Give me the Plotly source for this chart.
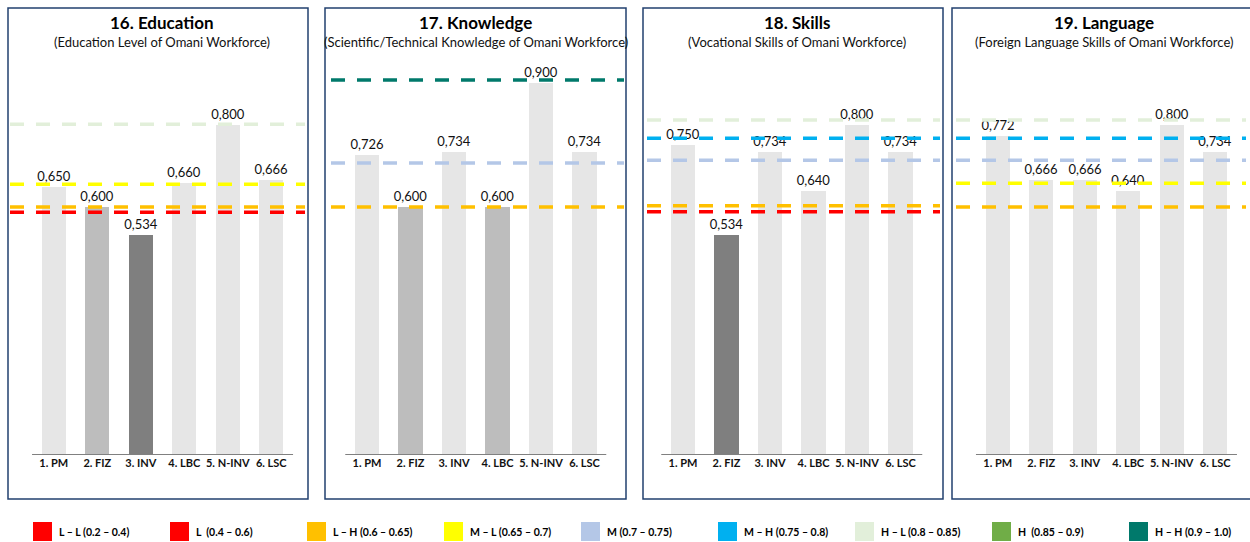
import plotly.graph_objects as go

W, H = 1250, 542

# ---- data -------------------------------------------------------------
categories = ["1. PM", "2. FIZ", "3. INV", "4. LBC", "5. N-INV", "6. LSC"]

education = [0.650, 0.600, 0.534, 0.660, 0.800, 0.666]
knowledge = [0.726, 0.600, 0.734, 0.600, 0.900, 0.734]
skills = [0.750, 0.534, 0.734, 0.640, 0.800, 0.734]
language = [0.772, 0.666, 0.666, 0.640, 0.800, 0.734]

panel_titles = ["16. Education", "17. Knowledge", "18. Skills", "19. Language"]
panel_subtitles = [
    "(Education Level of Omani Workforce)",
    "(Scientific/Technical Knowledge of Omani Workforce)",
    "(Vocational Skills of Omani Workforce)",
    "(Foreign Language Skills of Omani Workforce)",
]

# rating bands (legend)
band_keys = ["L-L", "L", "L-H", "M-L", "M", "M-H", "H-L", "H", "H-H"]
band_labels = [
    "L – L (0.2 – 0.4)", "L  (0.4 – 0.6)", "L – H (0.6 – 0.65)",
    "M – L (0.65 – 0.7)", "M (0.7 – 0.75)", "M – H (0.75 – 0.8)",
    "H – L (0.8 – 0.85)", "H  (0.85 – 0.9)", "H – H (0.9 – 1.0)",
]

# reference levels drawn in each panel: (band, level)
education_levels = [("H-L", 0.800), ("M-L", 0.655), ("L-H", 0.600), ("L", 0.587)]
knowledge_levels = [("H-H", 0.907), ("M", 0.706), ("L-H", 0.600)]
skills_levels = [("H-L", 0.810), ("M-H", 0.766), ("M", 0.713), ("L-H", 0.603), ("L", 0.588)]
language_levels = [("H-L", 0.810), ("M-H", 0.766), ("M", 0.713), ("M-L", 0.657), ("L-H", 0.600)]

# ---- styling ----------------------------------------------------------
band_colors = {
    "L-L": "#FF0000", "L": "#FF0000", "L-H": "#FFC000", "M-L": "#FFFF00",
    "M": "#B4C7E7", "M-H": "#00B0F0", "H-L": "#E2EFDA", "H": "#70AD47",
    "H-H": "#00796B",
}
FONT = "Lato, 'Open Sans', sans-serif"
TEXT = "#111111"
FRAME = "#22406F"


def bar_color(v):
    if v < 0.55:
        return "#7F7F7F"
    if v <= 0.6:
        return "#BDBDBD"
    return "#E6E6E6"


def fmt(v):
    return f"{v:.3f}".replace(".", ",")


def px(x):
    return x / W


def py(y):
    return 1 - y / H


# panel geometry in pixels
frames = [(8, 308), (325, 626), (643, 943), (952, 1252)]
spans = [(10, 305), (331, 624), (647, 940), (956, 1246)]
first_center = [53.8, 367.0, 683.0, 997.7]
title_center = [161.5, 475.5, 797.0, 1104.0]
STEP = 43.5
Y_ZERO, Y_ONE = 455.0, 41.5
FRAME_TOP, FRAME_BOTTOM = 8, 499

panels = [education, knowledge, skills, language]
levels = [education_levels, knowledge_levels, skills_levels, language_levels]

fig = go.Figure()
shapes = []
annotations = []
layout_axes = {}

for i, vals in enumerate(panels):
    n = i + 1
    xa = "x" if n == 1 else f"x{n}"
    ya = "y" if n == 1 else f"y{n}"
    L, R = spans[i]
    c0 = first_center[i]

    fig.add_trace(go.Bar(
        x=list(range(len(categories))), y=vals,
        width=0.56,
        marker=dict(color=[bar_color(v) for v in vals], line=dict(width=0)),
        text=[fmt(v) for v in vals], textposition="outside",
        textangle=0, constraintext="none", cliponaxis=False,
        textfont=dict(family=FONT, size=13, color=TEXT),
        xaxis=xa, yaxis=ya, showlegend=False, hoverinfo="skip",
    ))

    layout_axes[f"xaxis{'' if n == 1 else n}"] = dict(
        domain=[px(L), px(R)],
        range=[(L - c0) / STEP, (R - c0) / STEP],
        tickvals=list(range(len(categories))), ticktext=categories,
        tickfont=dict(family=FONT, size=11, color=TEXT, weight="bold"),
        showgrid=False, zeroline=False, showline=False, ticks="",
        anchor=ya, fixedrange=True,
    )
    layout_axes[f"yaxis{'' if n == 1 else n}"] = dict(
        domain=[py(Y_ZERO), py(Y_ONE)], range=[0, 1],
        visible=False, anchor=xa, fixedrange=True,
    )

    # base line
    shapes.append(dict(type="line", xref=xa, yref=ya, x0=-0.5, x1=5.5, y0=0, y1=0,
                       line=dict(color="#808080", width=2), layer="above"))

    # dashed band levels
    for band, lv in levels[i]:
        shapes.append(dict(type="line", xref=f"{xa} domain", yref=ya,
                           x0=0, x1=1, y0=lv, y1=lv, layer="above",
                           line=dict(color=band_colors[band], width=3.5, dash="14px,12px")))

    # frame
    fl, fr = frames[i]
    shapes.append(dict(type="rect", xref="paper", yref="paper",
                       x0=px(fl), x1=px(fr), y0=py(FRAME_BOTTOM), y1=py(FRAME_TOP),
                       line=dict(color=FRAME, width=1.5), layer="above"))

    # titles
    annotations.append(dict(xref="paper", yref="paper", x=px(title_center[i]), y=py(22.5),
                            text=panel_titles[i], showarrow=False,
                            xanchor="center", yanchor="middle",
                            font=dict(family=FONT, size=17, color="#000000", weight="bold")))
    annotations.append(dict(xref="paper", yref="paper", x=px(title_center[i]), y=py(42.5),
                            text=panel_subtitles[i], showarrow=False,
                            xanchor="center", yanchor="middle",
                            font=dict(family=FONT, size=13, color=TEXT)))

# legend row
LEG_X0, LEG_STEP, SQ_W, SQ_TOP, SQ_BOT = 33, 137, 19, 522, 541
for k, key in enumerate(band_keys):
    x0 = LEG_X0 + k * LEG_STEP
    shapes.append(dict(type="rect", xref="paper", yref="paper",
                       x0=px(x0), x1=px(x0 + SQ_W), y0=py(SQ_BOT), y1=py(SQ_TOP),
                       fillcolor=band_colors[key], line=dict(width=0)))
    annotations.append(dict(xref="paper", yref="paper", x=px(x0 + SQ_W + 5), y=py(531.5),
                            text=band_labels[k], showarrow=False,
                            xanchor="left", yanchor="middle",
                            font=dict(family=FONT, size=10.5, color="#000000", weight="bold")))

fig.update_layout(
    width=W, height=H,
    margin=dict(l=0, r=0, t=0, b=0),
    paper_bgcolor="white", plot_bgcolor="white",
    shapes=shapes, annotations=annotations,
    bargap=0, showlegend=False,
    **layout_axes,
)

fig.write_html("out.html")
